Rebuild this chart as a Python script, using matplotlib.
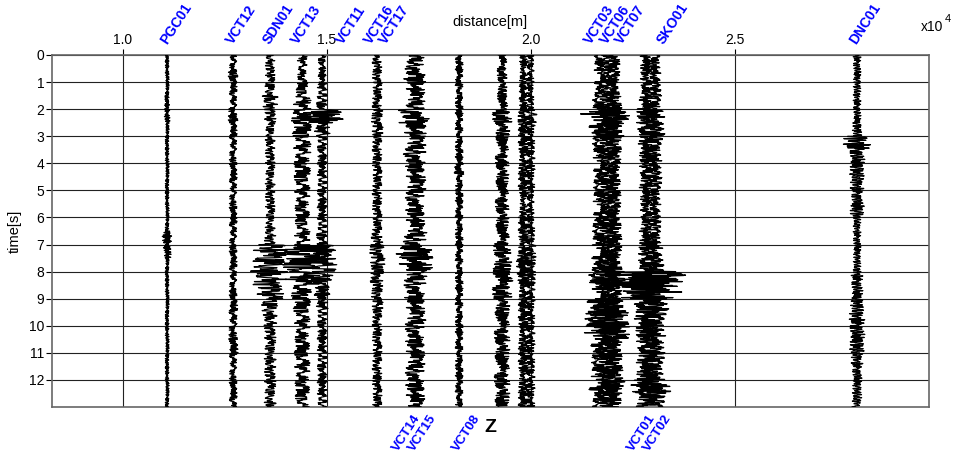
import numpy as np
import matplotlib
matplotlib.use("Agg")
import matplotlib.pyplot as plt

plt.rcParams['font.family'] = ['Liberation Sans', 'DejaVu Sans']

# ---------------- data ----------------
# station labels above the section (name, distance in m)
top_names = ["PGC01", "VCT12", "SDN01", "VCT13", "VCT11", "VCT16", "VCT17",
             "VCT03", "VCT06", "VCT07", "SKO01", "DNC01"]
top_dist = [11150, 12770, 13650, 14360, 15460, 16150, 16500,
            21550, 21920, 22310, 23310, 28050]
# station labels below the section
bot_names = ["VCT14", "VCT15", "VCT08", "VCT01", "VCT02"]
bot_dist = [17101, 17493, 18572, 22863, 23255]

# trace positions (m)
trace_dist = [11086, 12705, 13612, 14397, 14887, 16236, 17168, 18247, 19301,
              19816, 19988, 21704, 21876, 22048, 22833, 23053, 28007]

# amplitude envelope of each trace in 0.5 s windows (0-13 s), relative units
trace_env = [
    [2, 2, 2, 2.5, 3, 2, 2, 2, 2, 2, 2, 2, 2, 5, 4, 2, 2, 2, 2, 2, 2, 2, 2, 2, 2, 2],
    [4, 5, 4, 4, 5, 4, 4, 4, 4, 4, 4, 4, 4, 4, 4, 4, 4, 4, 4.5, 4.5, 4.5, 5, 4, 4, 4, 4],
    [5, 5, 6, 8, 6, 5, 5, 5, 5, 5, 5, 5, 5, 6, 18, 20, 18, 14, 10, 7, 6, 6, 6, 6, 6, 6],
    [5, 5, 6, 9, 12, 10, 9, 9, 9, 8, 8, 8, 7, 8, 20, 20, 18, 12, 9, 8, 8, 8, 8, 8, 8, 7],
    [4, 4, 5, 6, 22, 8, 5, 5, 5, 5, 5, 5, 5, 6, 14, 15, 12, 8, 6, 5, 5, 5, 5, 5, 5, 5],
    [5, 5, 5, 5, 6, 6, 5, 5, 5, 5, 5, 5, 5, 6, 8, 8, 7, 6, 6, 5, 5, 5, 5, 5, 5, 5],
    [9, 12, 10, 10, 17, 12, 11, 12, 10, 11, 10, 10, 10, 12, 20, 18, 12, 11, 10, 11, 10, 10, 10, 10, 10, 10],
    [4, 4, 4, 4, 4, 4, 4, 4, 5, 4, 4, 4, 4, 4, 4, 4, 4, 4, 4, 4, 4, 4, 4, 4, 4, 4],
    [5, 5, 5, 6, 10, 8, 7, 7, 7, 7, 7, 7, 7, 8, 9, 10, 12, 10, 8, 8, 8, 8, 8, 8, 8, 8],
    [4, 4, 4, 4, 7, 5, 5, 5, 5, 5, 4, 4, 5, 5, 6, 7, 6, 5, 5, 5, 5, 5, 5, 5, 5, 5],
    [4, 4, 4, 4, 7, 5, 5, 5, 5, 5, 4, 4, 5, 5, 6, 7, 6, 5, 5, 5, 5, 5, 5, 5, 5, 5],
    [6, 6, 6, 8, 20, 12, 8, 7, 7, 7, 7, 7, 8, 8, 8, 9, 12, 8, 14, 16, 16, 10, 9, 9, 12, 8],
    [6, 6, 6, 8, 18, 12, 8, 7, 7, 7, 7, 7, 8, 8, 8, 9, 12, 8, 14, 16, 16, 10, 9, 9, 12, 8],
    [6, 6, 6, 8, 16, 12, 8, 7, 7, 7, 7, 7, 8, 8, 8, 9, 12, 8, 14, 16, 16, 10, 9, 9, 12, 8],
    [6, 6, 6, 7, 10, 10, 8, 7, 7, 7, 6, 6, 6, 7, 8, 9, 36, 26, 14, 12, 11, 10, 10, 10, 16, 10],
    [6, 6, 6, 7, 10, 10, 8, 7, 7, 7, 6, 6, 6, 7, 8, 9, 40, 28, 14, 12, 11, 10, 10, 10, 18, 10],
    [4, 4, 4, 4, 4, 5, 14, 8, 8, 7, 6, 8, 4, 4, 4, 4, 6, 6, 7, 8, 8, 8, 6, 5, 5, 5],
]

# hand-typed normalised wiggle pattern used as the carrier of every trace
carrier = [0.12, -0.45, 0.83, -0.31, 0.05, 0.62, -0.88, 0.27, -0.14, 0.49,
           -0.72, 0.95, -0.38, 0.18, -0.57, 0.33, 0.71, -0.22, -0.66, 0.41,
           -0.09, 0.58, -0.93, 0.36, 0.07, -0.48, 0.79, -0.26, 0.15, -0.61,
           0.44, 0.89, -0.53, 0.02, -0.35, 0.67, -0.81, 0.24, -0.17, 0.52,
           -0.74, 0.11, 0.86, -0.42, 0.29, -0.98, 0.47, -0.06, 0.63, -0.29,
           0.19, -0.69, 0.91, -0.37, 0.08, -0.54, 0.76, -0.21, 0.34, -0.84,
           0.55, -0.12, 0.68, -0.46, 0.23, -0.77, 0.39, 0.97, -0.58, 0.13,
           -0.32, 0.61, -0.89, 0.28, -0.04, 0.51, -0.67, 0.43, 0.82, -0.39,
           0.16, -0.63, 0.37, -0.95, 0.59, -0.18, 0.26, -0.73, 0.88, -0.27,
           0.09, -0.50, 0.72, -0.13, 0.45, -0.86, 0.31, 0.64, -0.44, 0.21, -0.60]

x_ticks = [10000, 15000, 20000, 25000]
x_ticklabels = ["1.0", "1.5", "2.0", "2.5"]
y_ticks = list(range(0, 13))

# ---------------- figure ----------------
W, H = 956, 455
fig = plt.figure(figsize=(W / 100, H / 100), dpi=100)
ax = fig.add_axes([52 / W, 1 - 407 / H, (929 - 52) / W, (407 - 55) / H])

t = np.arange(0, 13.0001, 0.016)
win = np.minimum((t / 0.5).astype(int), 25)
car = np.array(carrier)
N = len(car)
steps = [3, 7, 11, 13, 17, 19, 23, 29, 31, 37, 41, 43, 47, 53, 59, 61, 67]
gain = 24.5  # metres per envelope unit
idx = np.arange(len(t))
for k, (x0, env) in enumerate(zip(trace_dist, trace_env)):
    e = np.array(env)[win]
    c = car[(5 * k + idx * steps[k]) % N]
    ax.plot(x0 + gain * e * c, t, color='black', lw=0.9, zorder=3)

ax.set_xlim(8260, 29770)
ax.set_ylim(13, 0)
ax.xaxis.tick_top()
ax.set_xticks(x_ticks)
ax.set_xticklabels(x_ticklabels)
ax.set_yticks(y_ticks)
ax.tick_params(axis='both', direction='out', length=4, width=0.8,
               labelsize=10, pad=1.5, colors='black')
ax.grid(True, color='#222222', lw=0.8, zorder=1)
ax.set_axisbelow(True)
for s in ax.spines.values():
    s.set_color('#666666')
    s.set_linewidth(1.2)

# station labels
for name, d in zip(top_names, top_dist):
    ax.annotate(name, xy=(d, 1), xycoords=('data', 'axes fraction'),
                xytext=(0, 6), textcoords='offset points',
                rotation=57, rotation_mode='anchor', ha='left', va='bottom',
                color='blue', fontsize=10, fontweight='bold')
for name, d in zip(bot_names, bot_dist):
    ax.annotate(name, xy=(d, 0), xycoords=('data', 'axes fraction'),
                xytext=(0, -4), textcoords='offset points',
                rotation=57, rotation_mode='anchor', ha='right', va='top',
                color='blue', fontsize=9.5, fontweight='bold')

fig.text(490 / W, 1 - 22 / H, "distance[m]", ha='center', va='center', fontsize=10.5)
fig.text(921 / W, 1 - 27 / H, "x10", ha='left', va='center', fontsize=10)
fig.text(945 / W, 1 - 19 / H, "4", ha='left', va='center', fontsize=8)
fig.text(15 / W, 1 - 231 / H, "time[s]", ha='center', va='center', rotation=90, fontsize=10.5)
fig.text(490 / W, 1 - 427 / H, "Z", ha='center', va='center', fontsize=14, fontweight='bold')

fig.savefig("out.png", dpi=100)
